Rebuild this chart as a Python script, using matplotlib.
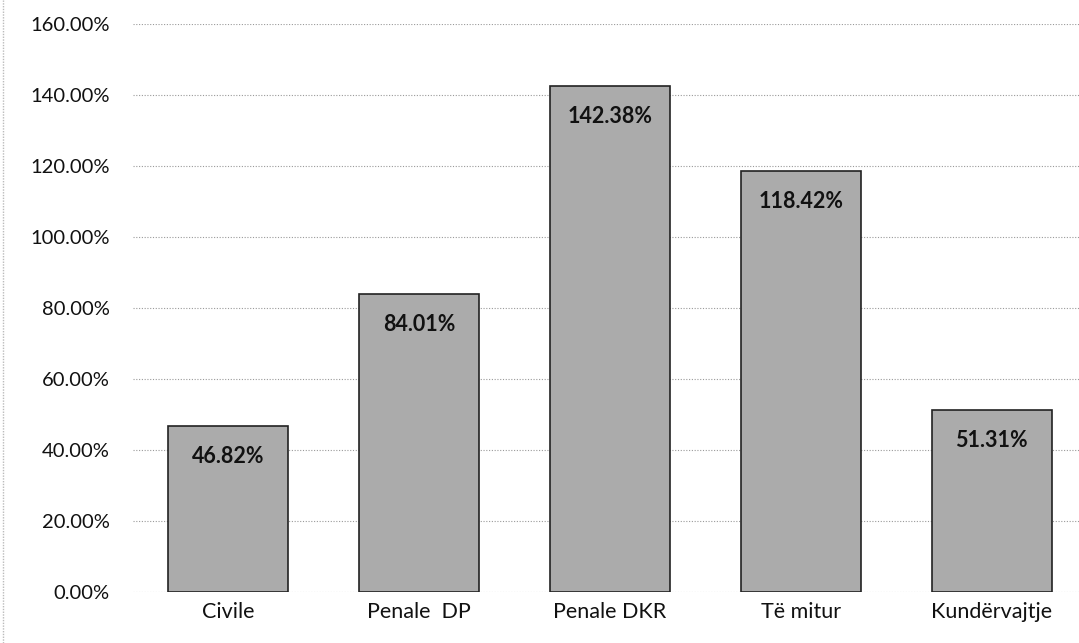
import numpy as np
import matplotlib
matplotlib.use("Agg")
import matplotlib.pyplot as plt
from matplotlib.ticker import FuncFormatter

# data
categories = ["Civile", "Penale  DP", "Penale DKR", "Të mitur", "Kundërvajtje"]
values = [46.82, 84.01, 142.38, 118.42, 51.31]
labels = ["46.82%", "84.01%", "142.38%", "118.42%", "51.31%"]

plt.rcParams['font.family'] = ['Lato', 'DejaVu Sans']

fig = plt.figure(figsize=(10.79, 6.43), dpi=100)
ax = fig.add_axes([0.123, 0.0793, 0.877, 0.884])

x = np.arange(len(categories))
bars = ax.bar(x, values, width=0.63, color='#ababab', edgecolor='#222222',
              linewidth=1.2, zorder=3)

for b, lab in zip(bars, labels):
    ax.annotate(lab, (b.get_x() + b.get_width() / 2, b.get_height()),
                xytext=(0, -22), textcoords='offset points',
                ha='center', va='center', fontsize=15.5, fontweight='bold',
                color='#111111', zorder=4)

ax.set_ylim(0, 160)
ax.set_yticks(np.arange(0, 161, 20))
ax.yaxis.set_major_formatter(FuncFormatter(lambda v, p: f"{v:.2f}%"))
ax.set_xlim(-0.5, 4.457)
ax.set_xticks(x)
ax.set_xticklabels(categories, fontsize=15.5)

ax.grid(axis='y', linestyle=(0, (1, 1.5)), color='#9a9a9a', linewidth=0.8, zorder=0)
for s in ax.spines.values():
    s.set_visible(False)
ax.tick_params(axis='both', length=0, colors='#111111')
ax.tick_params(axis='y', pad=16.5, labelsize=14.5)
ax.tick_params(axis='x', pad=7)

# faint scan border at the left edge
fig.add_artist(plt.Line2D([0.003, 0.003], [0, 1], transform=fig.transFigure,
                          color='#bbbbbb', linewidth=1, linestyle=(0, (1, 1))))

fig.savefig("out.png", dpi=100)
